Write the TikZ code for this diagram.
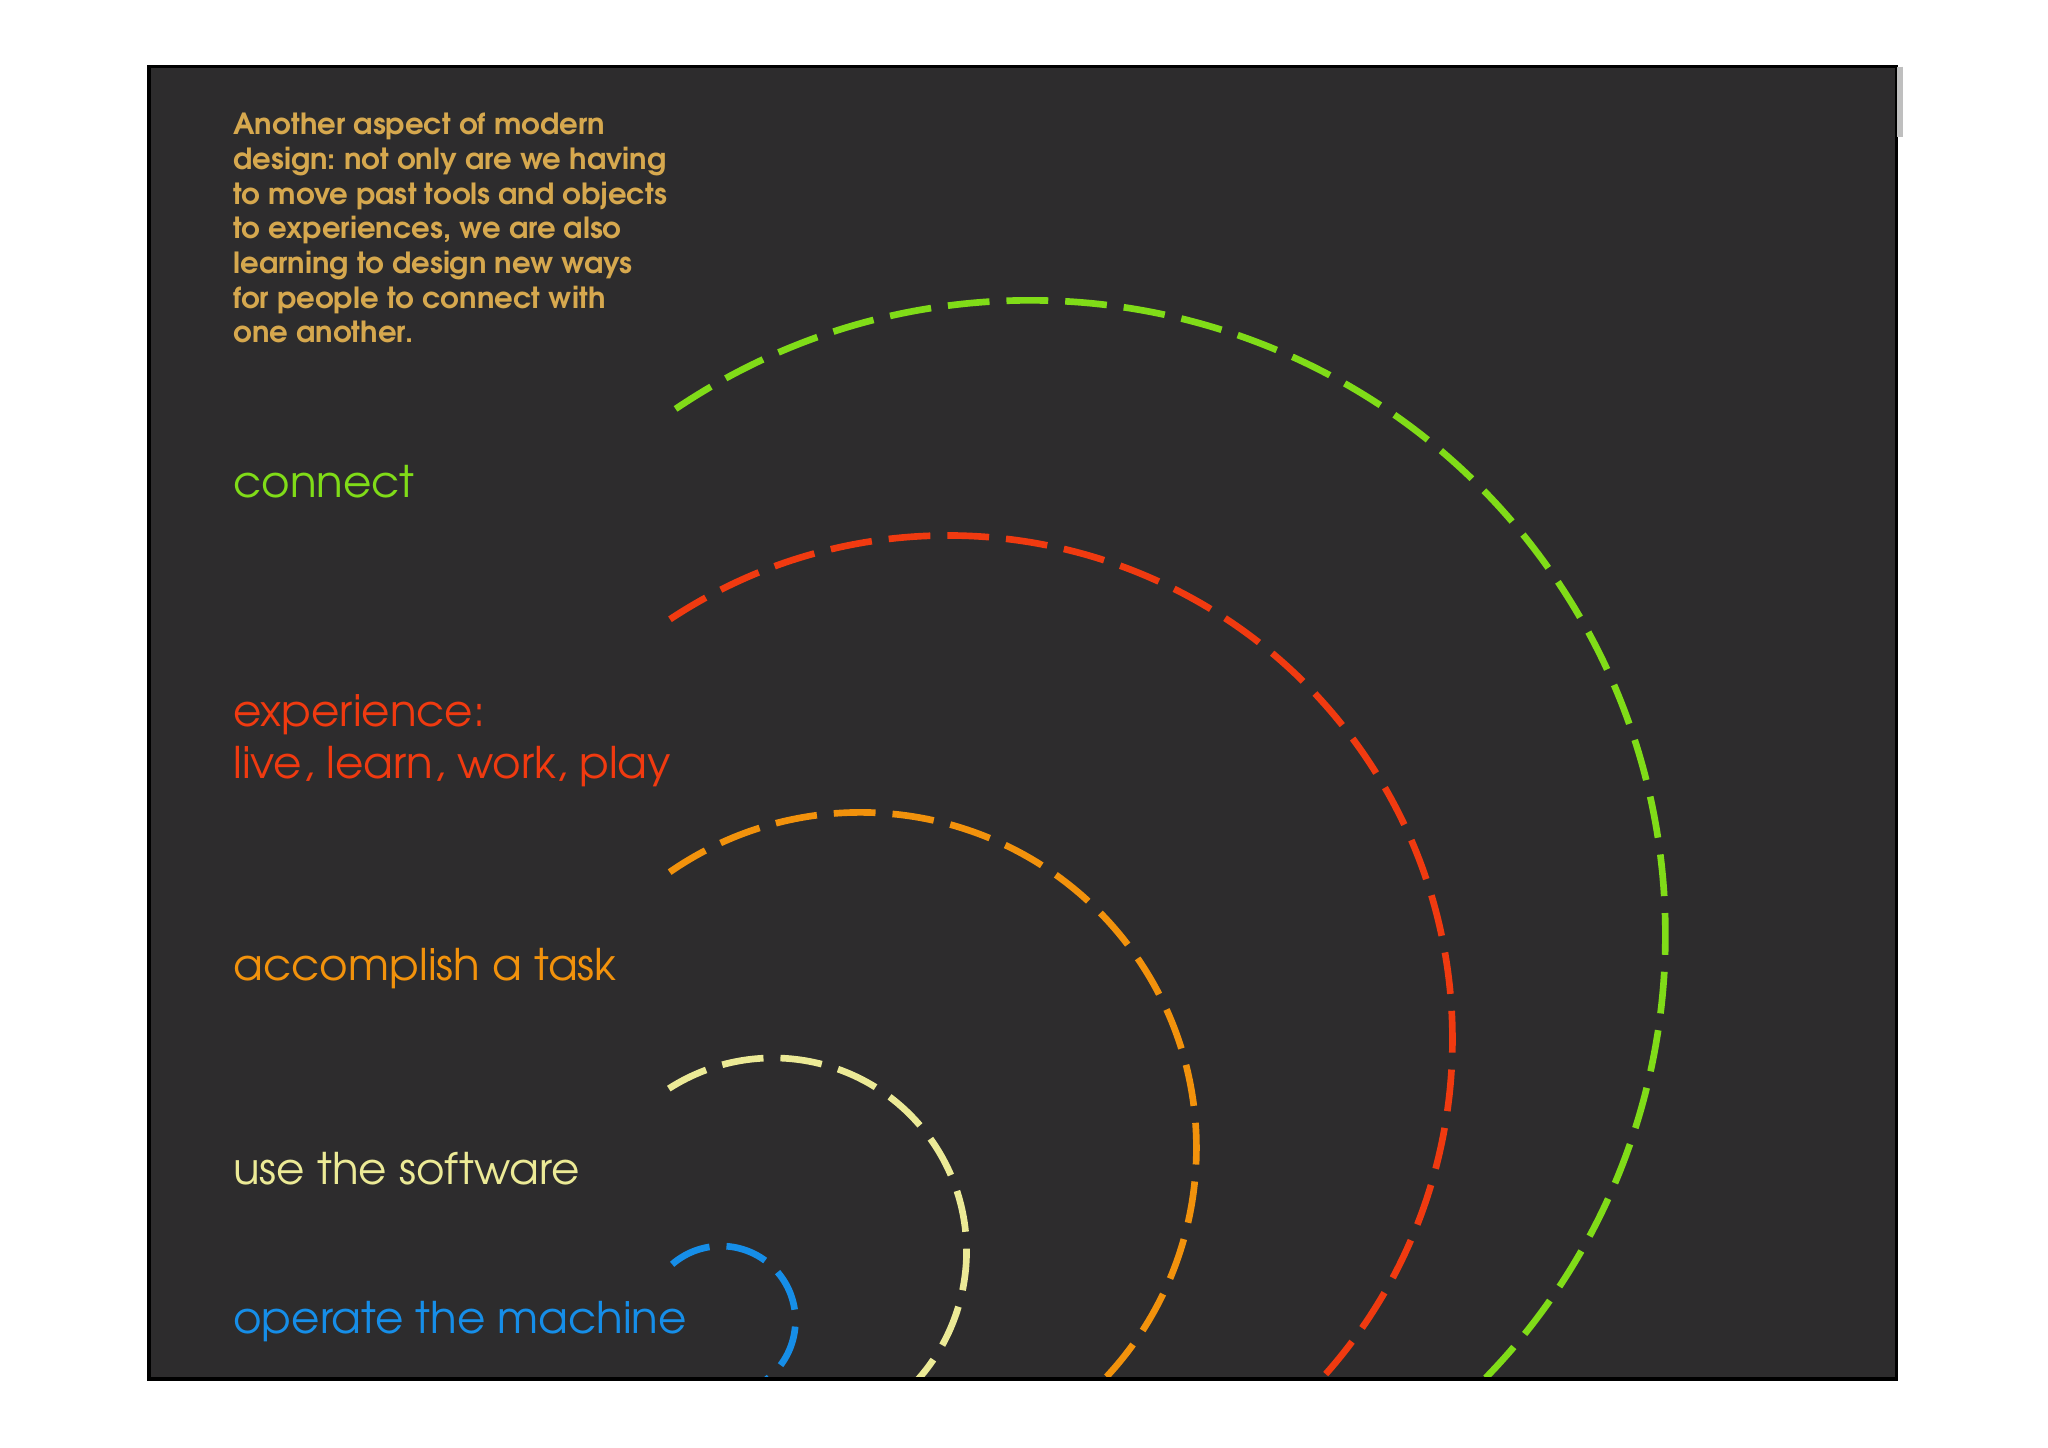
\documentclass[tikz,border=0pt]{standalone}
\usepackage{fontspec}
\setmainfont{TeX Gyre Adventor}
\usepackage{tikz}
\frenchspacing

\definecolor{slate}{RGB}{45,44,45}
\definecolor{gold}{RGB}{214,168,78}
\definecolor{lime}{RGB}{128,220,24}
\definecolor{flame}{RGB}{240,58,16}
\definecolor{amber}{RGB}{242,146,12}
\definecolor{cream}{RGB}{236,234,150}
\definecolor{sky}{RGB}{22,142,232}

\begin{document}
\begin{tikzpicture}[
  ring/.style={line width=1.45pt, dash pattern=on 3.2mm off 1.3mm},
  lbl/.style={anchor=base west, inner sep=0pt, font=\fontsize{9.5}{11.5}\selectfont}
]
  \useasboundingbox (0,0) rectangle (15.68,11.08);
  \fill[slate] (1.14,0.52) rectangle (14.52,10.57);

  \begin{scope}
    \clip (1.14,0.52) rectangle (14.52,10.57);
    \draw[ring, lime]  (7.89,3.92) ++(124:4.86) arc[start angle=124, end angle=-100, radius=4.86];
    \draw[ring, flame] (7.26,3.12) ++(123.5:3.86) arc[start angle=123.5, end angle=-100, radius=3.86];
    \draw[ring, amber] (6.59,2.29) ++(124.7:2.57) arc[start angle=124.7, end angle=-100, radius=2.57];
    \draw[ring, cream] (5.92,1.50) ++(122.7:1.48) arc[start angle=122.7, end angle=-100, radius=1.48];
    \draw[ring, sky]   (5.52,0.97) ++(131:0.57) arc[start angle=131, end angle=-100, radius=0.57];
  \end{scope}

  \draw[black, line width=0.8pt] (1.14,0.52) rectangle (14.52,10.57);
  \draw[gray!50, line width=1.2pt] (14.545,10.57) -- (14.545,10.03);

  \node[anchor=north west, inner sep=0pt, align=left, text=gold,
        font=\fontsize{6.35}{7.55}\selectfont\bfseries] (intro) at (1.78,10.22)
    {Another aspect of modern\\
     design: not only are we having\\
     to move past tools and objects\\
     to experiences, we are also\\
     learning to design new ways\\
     for people to connect with\\
     one another.};

  \node[lbl, text=lime]  (connect) at (1.78,7.27) {connect};
  \node[lbl, text=flame] (exper)   at (1.78,5.52) {experience:};
  \node[lbl, text=flame] (play)    at (1.78,5.12) {live, learn, work, play};
  \node[lbl, text=amber] (task)    at (1.78,3.57) {accomplish a task};
  \node[lbl, text=cream] (soft)    at (1.78,2.01) {use the software};
  \node[lbl, text=sky]   (machine) at (1.78,0.87) {operate the machine};
\end{tikzpicture}
\end{document}
